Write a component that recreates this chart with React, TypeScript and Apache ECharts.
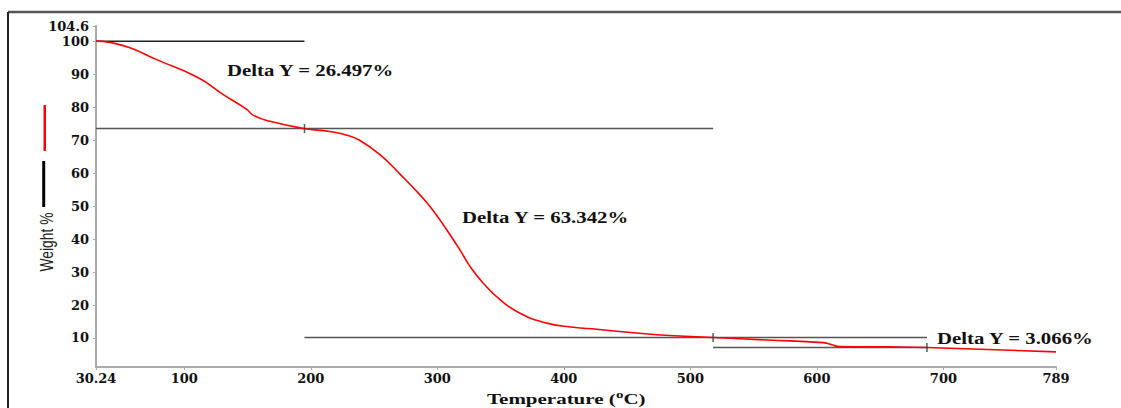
import React, { useEffect, useRef } from "react";
import * as echarts from "echarts";

// TGA curve: temperature (°C) and weight (%)
const temperature = [
  30.24, 41.3, 57.1, 78.2, 111.1, 130.9, 149.4, 154.6, 167.8, 194.5, 215, 228.6, 238.9,
  254.7, 270.5, 286.3, 296.8, 307.4, 317.9, 325.8, 336.3, 349.6, 365.4, 386.5,
  407.5, 426.0, 473.5, 518, 560.4, 604.9, 611.2, 618.3, 657.8, 687, 789,
];
const weight = [
  100, 99.6, 98.0, 94.4, 88.9, 83.8, 79.3, 77.5, 75.7, 73.5, 72.6, 71.5, 69.9, 65.6,
  59.7, 53.4, 48.6, 42.8, 36.7, 31.7, 26.6, 21.6, 17.5, 14.5, 13.25, 12.65,
  11.0, 10.16, 9.4, 8.6, 8.0, 7.4, 7.3, 7.1, 5.8,
];

// Step-analysis reference lines
const stepLevels = [100, 73.503, 10.161, 7.095];
const stepStarts = [30.24, 30.24, 195, 518];
const stepEnds = [195, 518, 687, 687];

// Tick markers on the step lines
const markerTemps = [195, 518, 687];
const markerWeights = [73.503, 10.161, 7.095];

const deltaLabels = ["Delta Y = 26.497%", "Delta Y = 63.342%", "Delta Y = 3.066%"];

// Axis tick labels
const xTicks = [30.24, 100, 200, 300, 400, 500, 600, 700, 789];
const yTicks = [10, 20, 30, 40, 50, 60, 70, 80, 90, 100, 104.6];

export default function App() {
  const ref = useRef<HTMLDivElement>(null);

  useEffect(() => {
    if (!ref.current) return;
    const chart = echarts.init(ref.current, undefined, { renderer: "svg" });

    const curve = temperature.map((t, i) => [t, weight[i]]);
    const stepSeries = stepLevels.map((lv, i) => ({
      type: "line",
      data: [
        [stepStarts[i], lv],
        [stepEnds[i], lv],
      ],
      symbol: "none",
      silent: true,
      lineStyle: { color: i === 0 ? "#222" : "#555", width: 1.5 },
      z: 2,
    }));

    const labelFont = {
      fontFamily: "DejaVu Serif",
      fontWeight: "bold" as const,
      fontSize: 13,
      color: "#111",
    };
    const annFont = {
      fontFamily: "Liberation Serif",
      fontWeight: "bold" as const,
      fontSize: 16,
      fill: "#111",
      align: "left" as const,
      verticalAlign: "middle" as const,
    };

    const option: any = {
      animation: false,
      backgroundColor: "#fff",
      grid: {
        left: 96,
        right: 65,
        top: 26,
        bottom: 41,
        containLabel: false,
        outerBoundsMode: "none",
      },
      xAxis: {
        type: "value",
        min: 30.24,
        max: 789,
        axisLine: { show: true, lineStyle: { color: "#aaa", width: 2 } },
        axisTick: {
          show: true,
          length: 3,
          customValues: xTicks,
          lineStyle: { color: "#aaa" },
        },
        axisLabel: {
          ...labelFont,
          margin: 5,
          customValues: xTicks,
          formatter: (v: number) => String(v),
        },
        splitLine: { show: false },
      },
      yAxis: {
        type: "value",
        min: 1.2,
        max: 104.6,
        axisLine: { show: true, lineStyle: { color: "#aaa", width: 2 } },
        axisTick: {
          show: true,
          length: 3,
          customValues: yTicks,
          lineStyle: { color: "#aaa" },
        },
        axisLabel: {
          ...labelFont,
          margin: 7,
          customValues: yTicks,
          formatter: (v: number) => String(v),
        },
        splitLine: { show: false },
      },
      series: [
        ...stepSeries,
        {
          type: "line",
          data: curve,
          symbol: "none",
          smooth: 0.5,
          lineStyle: { color: "#ff0000", width: 1.6 },
          z: 3,
        },
        {
          type: "scatter",
          data: markerTemps.map((t, i) => [t, markerWeights[i]]),
          symbol: "rect",
          symbolSize: [1.5, 9],
          itemStyle: { color: "#333" },
          silent: true,
          z: 4,
        },
      ],
      graphic: [
        // frame
        {
          type: "line",
          shape: { x1: 8, y1: 12, x2: 1121, y2: 12 },
          style: { stroke: "#555", lineWidth: 2.5 },
        },
        {
          type: "line",
          shape: { x1: 8, y1: 12, x2: 8, y2: 408 },
          style: { stroke: "#222", lineWidth: 2 },
        },
        // legend markers
        {
          type: "rect",
          shape: { x: 43.5, y: 105, width: 2.5, height: 46 },
          style: { fill: "#ff0000" },
        },
        {
          type: "rect",
          shape: { x: 42.2, y: 161, width: 3, height: 46 },
          style: { fill: "#000" },
        },
        // y axis title
        {
          type: "text",
          x: 46,
          y: 242,
          rotation: Math.PI / 2,
          scaleX: 0.77,
          style: {
            text: "Weight %",
            fontFamily: "Liberation Sans",
            fontSize: 18,
            fill: "#222",
            align: "center",
            verticalAlign: "middle",
          },
        },
        // x axis title
        {
          type: "text",
          x: 487,
          y: 398,
          scaleX: 1.5,
          style: {
            text: "{b|Temperature (}{s|o}{b|C)}",
            align: "left",
            verticalAlign: "middle",
            rich: {
              b: {
                fontFamily: "Liberation Serif",
                fontWeight: "bold",
                fontSize: 14,
                lineHeight: 16,
                fill: "#111",
                verticalAlign: "bottom",
              },
              s: {
                fontFamily: "Liberation Serif",
                fontWeight: "bold",
                fontSize: 10,
                lineHeight: 16,
                fill: "#111",
                verticalAlign: "top",
              },
            },
          },
        },
        // delta annotations
        {
          type: "text",
          x: 227,
          y: 70,
          scaleX: 1.3,
          style: { ...annFont, text: deltaLabels[0] },
        },
        {
          type: "text",
          x: 462,
          y: 217,
          scaleX: 1.3,
          style: { ...annFont, text: deltaLabels[1] },
        },
        {
          type: "text",
          x: 937,
          y: 338,
          scaleX: 1.3,
          style: { ...annFont, text: deltaLabels[2] },
        },
      ],
    };

    chart.setOption(option);
    return () => chart.dispose();
  }, []);

  return (
    <div
      ref={ref}
      style={{ position: "fixed", left: 0, top: 0, width: 1121, height: 408 }}
    />
  );
}
